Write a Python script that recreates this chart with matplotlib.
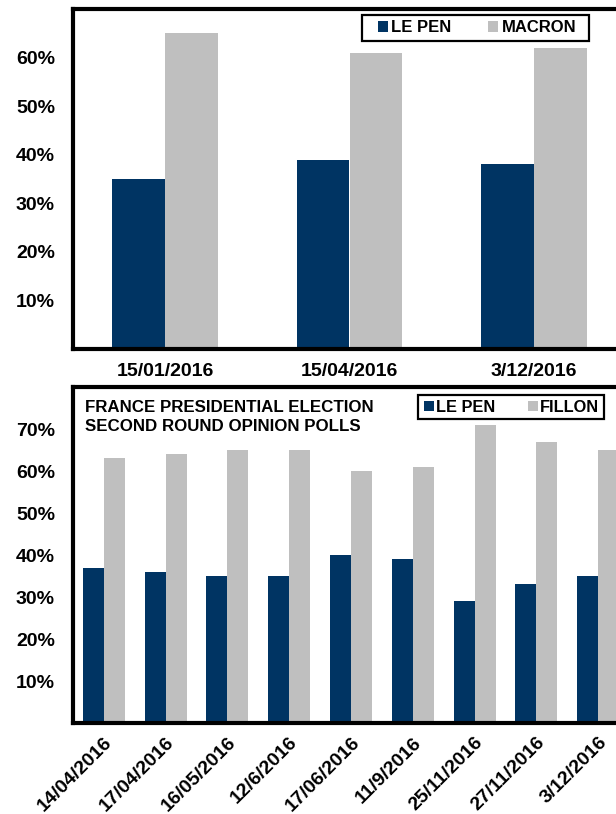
import matplotlib
matplotlib.use("Agg")
import matplotlib.pyplot as plt
from matplotlib.patches import Patch, Rectangle
from matplotlib.ticker import FuncFormatter

plt.rcParams['font.family'] = ['Liberation Sans', 'DejaVu Sans']
plt.rcParams['font.weight'] = 'bold'

NAVY = '#003463'
GREY = '#BFBFBF'

# Macron vs Le Pen
macron_dates = ['15/01/2016', '15/04/2016', '3/12/2016']
macron_lepen = [35, 39, 38]
macron_vals = [65, 61, 62]

# Fillon vs Le Pen
fillon_dates = ['14/04/2016', '17/04/2016', '16/05/2016', '12/6/2016', '17/06/2016',
                '11/9/2016', '25/11/2016', '27/11/2016', '3/12/2016']
fillon_lepen = [37, 36, 35, 35, 40, 39, 29, 33, 35]
fillon_vals = [63, 64, 65, 65, 60, 61, 71, 67, 65]

top_ticks = [10, 20, 30, 40, 50, 60]
bottom_ticks = [10, 20, 30, 40, 50, 60, 70]

W, H = 616, 814
fig = plt.figure(figsize=(W / 100, H / 100), dpi=100)


def fig_rect(x0, y0, x1, y1):
    return [x0 / W, 1 - y1 / H, (x1 - x0) / W, (y1 - y0) / H]


pct = FuncFormatter(lambda v, _: f'{v:.0f}%')


def style(ax, ticks, ymax):
    ax.set_ylim(0, ymax)
    ax.set_yticks(ticks)
    ax.yaxis.set_major_formatter(pct)
    for s in ax.spines.values():
        s.set_linewidth(3)
        s.set_color('black')
    ax.tick_params(axis='both', length=0, labelsize=14)
    ax.tick_params(axis='y', pad=13)


def add_legend(ax, labels, box, handle_x, colspace, textpad, size):
    # box given in pixels: (x0, y0, x1, y1) measured from the top-left corner
    x0, y0, x1, y1 = box
    ax.add_patch(Rectangle((x0 / W, 1 - y1 / H), (x1 - x0) / W, (y1 - y0) / H,
                           transform=fig.transFigure, facecolor='white',
                           edgecolor='black', linewidth=1.6, zorder=4,
                           clip_on=False))
    handles = [Patch(facecolor=NAVY, edgecolor='none'),
               Patch(facecolor=GREY, edgecolor='none')]
    leg = ax.legend(handles, labels, ncol=2, loc='center left',
                    bbox_to_anchor=(handle_x / W, 1 - (y0 + y1) / 2 / H),
                    bbox_transform=fig.transFigure,
                    borderaxespad=0, borderpad=0, frameon=False,
                    handlelength=0.6, handleheight=0.6, handletextpad=textpad,
                    columnspacing=colspace,
                    prop={'weight': 'bold', 'size': size})
    leg.set_zorder(6)
    return leg


# Upper panel
ax1 = fig.add_axes(fig_rect(73, 9, 626, 349))
x1 = list(range(len(macron_dates)))
w1 = 0.287
ax1.bar([i - w1 / 2 for i in x1], macron_lepen, width=w1, color=NAVY)
ax1.bar([i + w1 / 2 for i in x1], macron_vals, width=w1, color=GREY)
ax1.set_xlim(-0.5, len(macron_dates) - 0.5)
ax1.set_xticks(x1)
ax1.set_xticklabels(macron_dates)
style(ax1, top_ticks, 70)
ax1.tick_params(axis='x', pad=10)
add_legend(ax1, ['LE PEN', 'MACRON'], (362, 15, 589, 41), 378, 2.2, 0.2, 12)

# Lower panel
ax2 = fig.add_axes(fig_rect(73, 387, 629, 723))
x2 = list(range(len(fillon_dates)))
w2 = 0.34
ax2.bar([i - w2 / 2 for i in x2], fillon_lepen, width=w2, color=NAVY)
ax2.bar([i + w2 / 2 for i in x2], fillon_vals, width=w2, color=GREY)
ax2.set_xlim(-0.5, len(fillon_dates) - 0.5)
ax2.set_xticks(x2)
ax2.set_xticklabels(fillon_dates, rotation=45, ha='right', va='top',
                    rotation_mode='anchor')
style(ax2, bottom_ticks, 80)
ax2.tick_params(axis='x', pad=8)
add_legend(ax2, ['LE PEN', 'FILLON'], (418, 395, 604, 419), 424, 2.0, 0.12, 11.8)

ax2.text(85 / W, 1 - 400 / H, 'FRANCE PRESIDENTIAL ELECTION\nSECOND ROUND OPINION POLLS',
         transform=fig.transFigure, ha='left', va='top', fontsize=12.2,
         fontweight='bold', linespacing=1.3)

fig.savefig('out.png', dpi=100)
